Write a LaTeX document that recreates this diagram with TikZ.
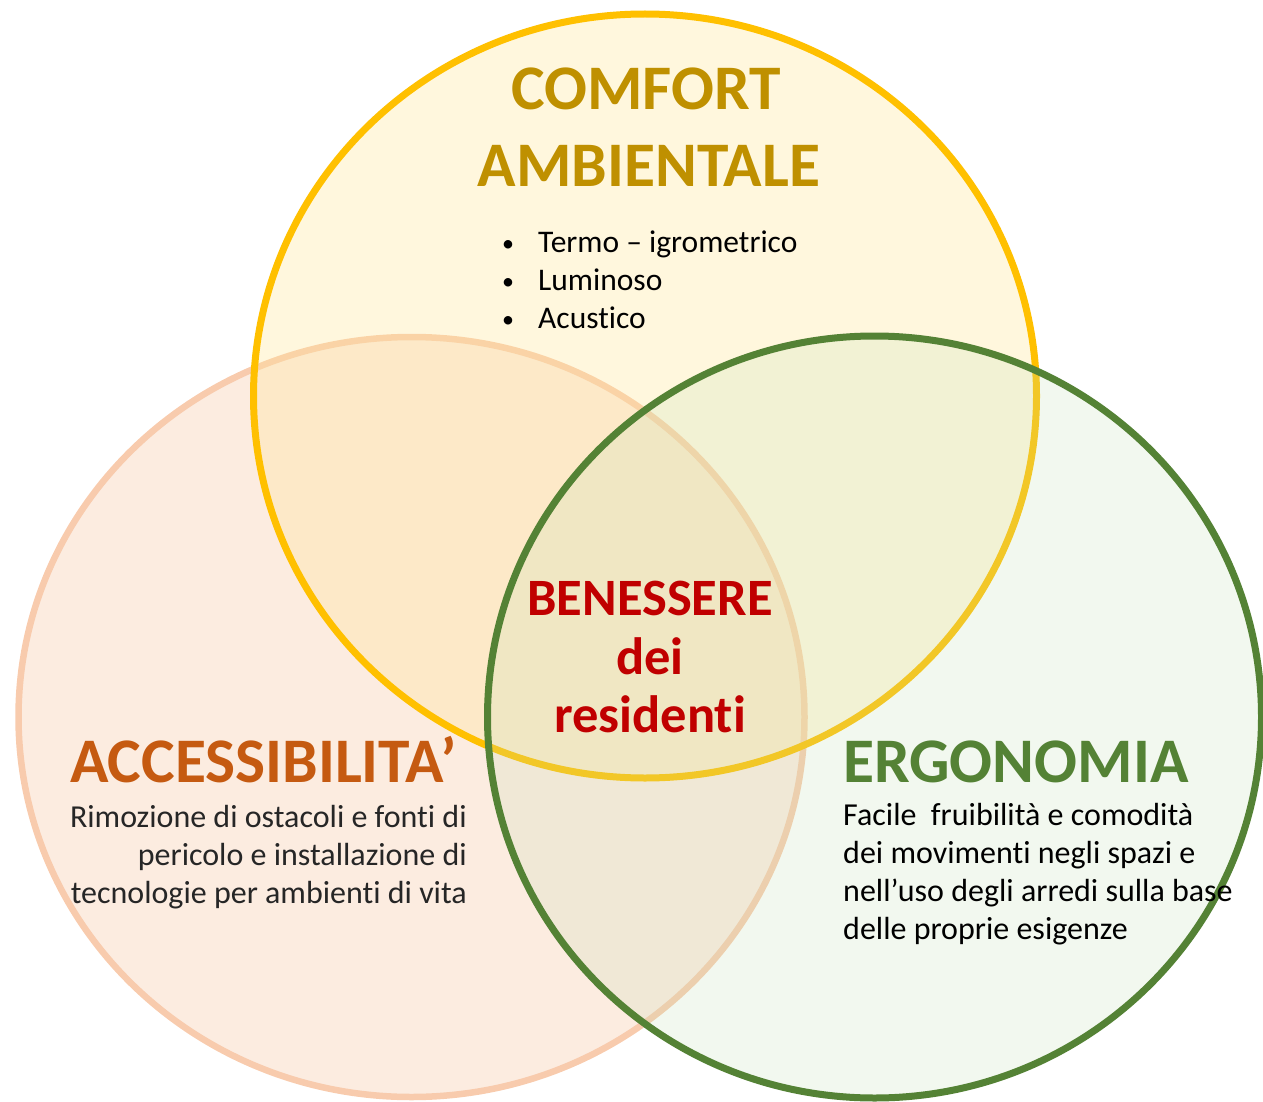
\documentclass[tikz,border=0pt]{standalone}
\usepackage{fontspec}
\setmainfont{Carlito}[Ligatures={NoCommon}]
\definecolor{yelLine}{HTML}{FFC000}
\definecolor{yelFill}{HTML}{FFE699}
\definecolor{pchLine}{HTML}{F8CBAD}
\definecolor{pchFill}{HTML}{FBE5D6}
\definecolor{grnLine}{HTML}{548235}
\definecolor{grnFill}{HTML}{C5E0B4}
\definecolor{comfortCol}{HTML}{BF9000}
\definecolor{accCol}{HTML}{C55A11}
\definecolor{ergCol}{HTML}{548235}
\definecolor{benCol}{HTML}{C00000}
\definecolor{bodyGray}{HTML}{262626}
\newcommand{\blt}{\makebox[38pt][l]{\hspace{2pt}\raisebox{1pt}{\fontsize{24}{24}\selectfont •}}}
\tikzset{
  setcircle/.style={line width=7pt},
  titletext/.style={inner sep=0pt, font=\bfseries\fontsize{63.5}{76}\selectfont},
  centertext/.style={inner sep=0pt, font=\bfseries\fontsize{52.5}{60}\selectfont, text=benCol},
  bodytext/.style={inner sep=0pt, font=\fontsize{32}{38.3}\selectfont}
}
\begin{document}
\begin{tikzpicture}[x=1pt,y=-1pt]
\useasboundingbox (0,0) rectangle (1263,1102);
\clip (0,0) rectangle (1263,1102);
% circles
\path[setcircle, line width=6.5pt, draw=pchLine, fill=pchFill, fill opacity=0.75] (411.5,717) ellipse [x radius=393pt, y radius=380pt];
\path[setcircle, draw=yelLine, fill=yelFill, fill opacity=0.33] (645,396) ellipse [x radius=391.5pt, y radius=382pt];
\path[setcircle, draw=grnLine, fill=grnFill, fill opacity=0.22] (874.5,717) ellipse [x radius=387pt, y radius=381pt];
% comfort
\node[titletext, text=comfortCol, anchor=base] (comfortA) at (646,110) {COMFORT};
\node[titletext, text=comfortCol, anchor=base] (comfortB) at (649,187) {AMBIENTALE};
\node[bodytext, anchor=base west] (comfortList) at (500,252) {\parbox[t]{400pt}{\fontsize{31.5}{38.2}\selectfont\raggedright
\blt Termo – igrometrico\\
\blt Luminoso\\
\blt Acustico}};
% center
\node[centertext, anchor=base] (benA) at (650,615) {BENESSERE};
\node[centertext, anchor=base] (benB) at (650,674) {dei};
\node[centertext, anchor=base] (benC) at (650,732) {residenti};
% accessibilita
\node[titletext, text=accCol, anchor=base west] (accTitle) at (70,782) {ACCESSIBILITA’};
\node[bodytext, text=bodyGray, anchor=base east] (accText) at (467,827) {\parbox[t]{420pt}{\fontsize{32}{38.2}\selectfont\raggedleft
Rimozione di ostacoli e fonti di\\
pericolo e installazione di\\
tecnologie per ambienti di vita}};
% ergonomia
\node[titletext, text=ergCol, anchor=base west] (ergTitle) at (843,782) {ERGONOMIA};
\node[bodytext, text=black, anchor=base west] (ergText) at (843,825) {\parbox[t]{420pt}{\fontsize{32}{38.3}\selectfont\raggedright
Facile\ \ fruibilità e comodità\\
dei movimenti negli spazi e\\
nell’uso degli arredi sulla base\\
delle proprie esigenze}};
\end{tikzpicture}
\end{document}
